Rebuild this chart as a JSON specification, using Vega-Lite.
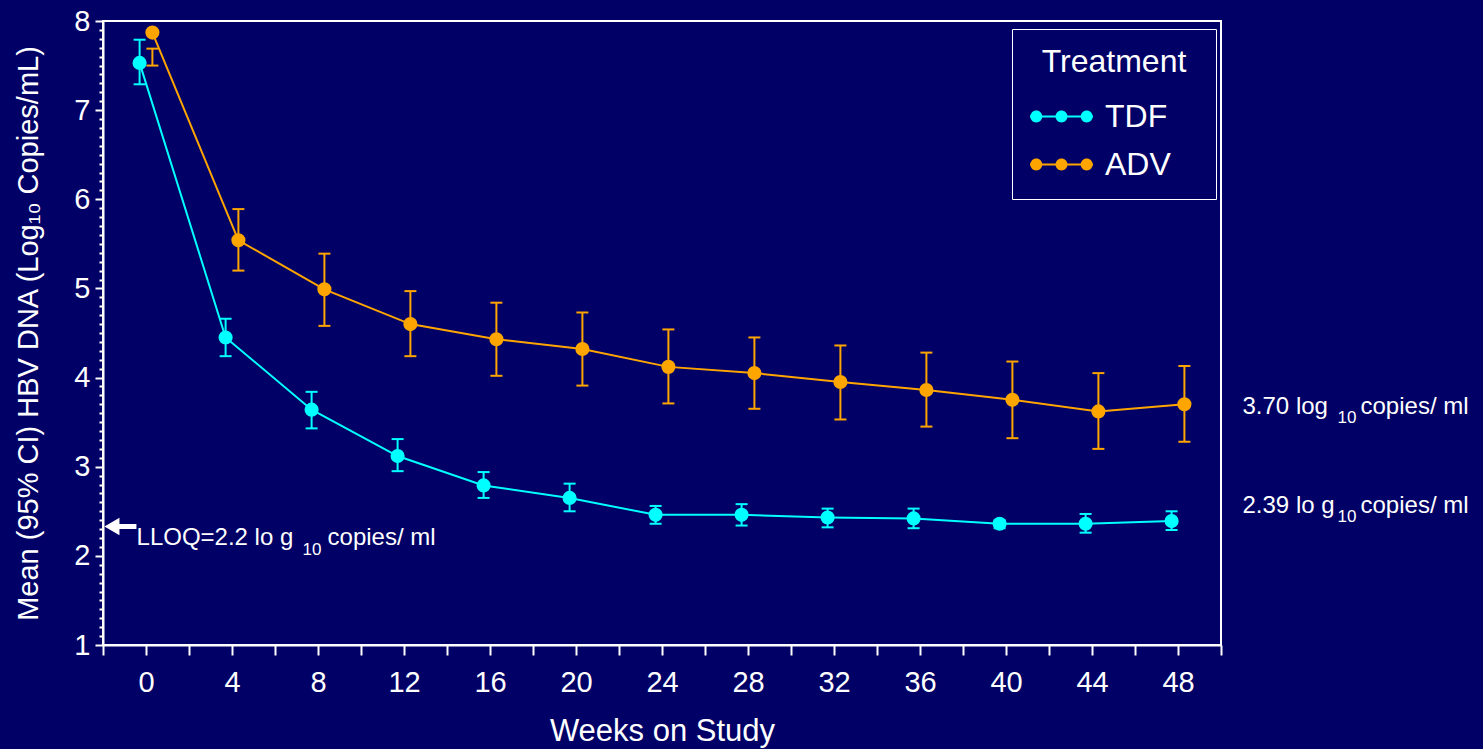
{
  "$schema": "https://vega.github.io/schema/vega-lite/v6.json",
  "width": 1118,
  "height": 624,
  "autosize": {"type": "none"},
  "padding": {"left": 103, "top": 21, "right": 262, "bottom": 104},
  "background": "#000066",
  "config": {
    "font": "Liberation Sans",
    "view": {"stroke": "#FFFFFF", "strokeWidth": 2},
    "axis": {
      "domainColor": "#FFFFFF", "domainWidth": 2,
      "tickColor": "#FFFFFF", "tickWidth": 2,
      "labelColor": "#FFFFFF", "titleColor": "#FFFFFF",
      "grid": false,
      "labelFont": "Liberation Sans", "titleFont": "Liberation Sans",
      "titleFontWeight": "normal"
    },
    "text": {"font": "Liberation Sans", "color": "#FFFFFF"}
  },
  "datasets": {
    "hbv": [
      {"week": 0, "treatment": "TDF", "mean": 7.53, "lower": 7.29, "upper": 7.79},
      {"week": 4, "treatment": "TDF", "mean": 4.45, "lower": 4.24, "upper": 4.66},
      {"week": 8, "treatment": "TDF", "mean": 3.64, "lower": 3.43, "upper": 3.84},
      {"week": 12, "treatment": "TDF", "mean": 3.12, "lower": 2.95, "upper": 3.31},
      {"week": 16, "treatment": "TDF", "mean": 2.79, "lower": 2.65, "upper": 2.94},
      {"week": 20, "treatment": "TDF", "mean": 2.65, "lower": 2.50, "upper": 2.81},
      {"week": 24, "treatment": "TDF", "mean": 2.46, "lower": 2.36, "upper": 2.56},
      {"week": 28, "treatment": "TDF", "mean": 2.46, "lower": 2.34, "upper": 2.58},
      {"week": 32, "treatment": "TDF", "mean": 2.43, "lower": 2.32, "upper": 2.53},
      {"week": 36, "treatment": "TDF", "mean": 2.42, "lower": 2.31, "upper": 2.53},
      {"week": 40, "treatment": "TDF", "mean": 2.36, "lower": 2.31, "upper": 2.40},
      {"week": 44, "treatment": "TDF", "mean": 2.36, "lower": 2.26, "upper": 2.47},
      {"week": 48, "treatment": "TDF", "mean": 2.39, "lower": 2.29, "upper": 2.50},
      {"week": 0, "treatment": "ADV", "mean": 7.87, "lower": 7.50, "upper": 7.69},
      {"week": 4, "treatment": "ADV", "mean": 5.54, "lower": 5.20, "upper": 5.89},
      {"week": 8, "treatment": "ADV", "mean": 4.99, "lower": 4.58, "upper": 5.39},
      {"week": 12, "treatment": "ADV", "mean": 4.60, "lower": 4.24, "upper": 4.97},
      {"week": 16, "treatment": "ADV", "mean": 4.43, "lower": 4.02, "upper": 4.84},
      {"week": 20, "treatment": "ADV", "mean": 4.32, "lower": 3.91, "upper": 4.73},
      {"week": 24, "treatment": "ADV", "mean": 4.12, "lower": 3.71, "upper": 4.54},
      {"week": 28, "treatment": "ADV", "mean": 4.05, "lower": 3.65, "upper": 4.45},
      {"week": 32, "treatment": "ADV", "mean": 3.95, "lower": 3.53, "upper": 4.36},
      {"week": 36, "treatment": "ADV", "mean": 3.86, "lower": 3.45, "upper": 4.28},
      {"week": 40, "treatment": "ADV", "mean": 3.75, "lower": 3.32, "upper": 4.18},
      {"week": 44, "treatment": "ADV", "mean": 3.62, "lower": 3.20, "upper": 4.05},
      {"week": 48, "treatment": "ADV", "mean": 3.70, "lower": 3.28, "upper": 4.13}
    ],
    "lloq": [
      {"arrowWeek": -1.19, "arrowLevel": 2.33, "week": -0.44, "level": 2.2, "main": "LLOQ=2.2 lo g", "sub": "10", "post": "copies/ ml"}
    ],
    "final": [
      {"week": 51, "level": 3.67, "main": "3.70 log", "sub": "10", "post": "copies/ ml"},
      {"week": 51, "level": 2.56, "main": "2.39 lo g", "sub": "10", "post": "copies/ ml"}
    ]
  },
  "layer": [
    {
      "data": {"name": "hbv"},
      "transform": [{"filter": "datum.treatment === 'TDF'"}],
      "mark": {"type": "rule", "strokeWidth": 2, "xOffset": -6.4},
      "encoding": {
        "x": {"field": "week", "type": "quantitative", "scale": {"domain": [-2, 50], "nice": false, "zero": false}},
        "y": {"field": "lower", "type": "quantitative", "scale": {"domain": [1, 8], "nice": false, "zero": false},
          "axis": {"orient": "left", "values": [1.1,1.2,1.3,1.4,1.5,1.6,1.7,1.8,1.9,2.1,2.2,2.3,2.4,2.5,2.6,2.7,2.8,2.9,3.1,3.2,3.3,3.4,3.5,3.6,3.7,3.8,3.9,4.1,4.2,4.3,4.4,4.5,4.6,4.7,4.8,4.9,5.1,5.2,5.3,5.4,5.5,5.6,5.7,5.8,5.9,6.1,6.2,6.3,6.4,6.5,6.6,6.7,6.8,6.9,7.1,7.2,7.3,7.4,7.5,7.6,7.7,7.8,7.9],
            "labels": false, "domain": false, "tickSize": 4, "title": null}},
        "y2": {"field": "upper"},
        "stroke": {"field": "treatment", "type": "nominal", "scale": {"domain": ["TDF", "ADV"], "range": ["#00FFFF", "#FFA500"]}, "legend": null}
      }
    },
    {
      "data": {"name": "hbv"},
      "transform": [{"filter": "datum.treatment === 'ADV'"}],
      "mark": {"type": "rule", "strokeWidth": 2, "xOffset": 6.4},
      "encoding": {
        "x": {"field": "week", "type": "quantitative"},
        "y": {"field": "lower", "type": "quantitative", "axis": null},
        "y2": {"field": "upper"},
        "stroke": {"field": "treatment", "type": "nominal", "legend": null}
      }
    },
    {
      "data": {"name": "hbv"},
      "transform": [{"filter": "datum.treatment === 'TDF'"}],
      "mark": {"type": "tick", "orient": "horizontal", "size": 12, "thickness": 2, "opacity": 1, "xOffset": -6.4},
      "encoding": {
        "x": {"field": "week", "type": "quantitative"},
        "y": {"field": "lower", "type": "quantitative", "axis": null},
        "color": {"field": "treatment", "type": "nominal", "scale": {"domain": ["TDF", "ADV"], "range": ["#00FFFF", "#FFA500"]}, "legend": null}
      }
    },
    {
      "data": {"name": "hbv"},
      "transform": [{"filter": "datum.treatment === 'TDF'"}],
      "mark": {"type": "tick", "orient": "horizontal", "size": 12, "thickness": 2, "opacity": 1, "xOffset": -6.4},
      "encoding": {
        "x": {"field": "week", "type": "quantitative"},
        "y": {"field": "upper", "type": "quantitative", "axis": null},
        "color": {"field": "treatment", "type": "nominal", "legend": null}
      }
    },
    {
      "data": {"name": "hbv"},
      "transform": [{"filter": "datum.treatment === 'ADV'"}],
      "mark": {"type": "tick", "orient": "horizontal", "size": 12, "thickness": 2, "opacity": 1, "xOffset": 6.4},
      "encoding": {
        "x": {"field": "week", "type": "quantitative"},
        "y": {"field": "lower", "type": "quantitative", "axis": null},
        "color": {"field": "treatment", "type": "nominal", "legend": null}
      }
    },
    {
      "data": {"name": "hbv"},
      "transform": [{"filter": "datum.treatment === 'ADV'"}],
      "mark": {"type": "tick", "orient": "horizontal", "size": 12, "thickness": 2, "opacity": 1, "xOffset": 6.4},
      "encoding": {
        "x": {"field": "week", "type": "quantitative"},
        "y": {"field": "upper", "type": "quantitative", "axis": null},
        "color": {"field": "treatment", "type": "nominal", "legend": null}
      }
    },
    {
      "data": {"name": "hbv"},
      "transform": [{"filter": "datum.treatment === 'TDF'"}],
      "mark": {"type": "line", "strokeWidth": 2, "xOffset": -6.4},
      "encoding": {
        "x": {"field": "week", "type": "quantitative"},
        "y": {"field": "mean", "type": "quantitative", "axis": null},
        "stroke": {"field": "treatment", "type": "nominal", "legend": null}
      }
    },
    {
      "data": {"name": "hbv"},
      "transform": [{"filter": "datum.treatment === 'ADV'"}],
      "mark": {"type": "line", "strokeWidth": 2, "xOffset": 6.4},
      "encoding": {
        "x": {"field": "week", "type": "quantitative"},
        "y": {"field": "mean", "type": "quantitative", "axis": null},
        "stroke": {"field": "treatment", "type": "nominal", "legend": null}
      }
    },
    {
      "data": {"name": "hbv"},
      "transform": [{"filter": "datum.treatment === 'TDF'"}],
      "mark": {"type": "point", "shape": "circle", "filled": true, "opacity": 1, "size": 200, "xOffset": -6.4},
      "encoding": {
        "x": {"field": "week", "type": "quantitative",
          "axis": {"values": [-2,0,2,4,6,8,10,12,14,16,18,20,22,24,26,28,30,32,34,36,38,40,42,44,46,48,50],
            "labelExpr": "datum.value >= 0 && datum.value % 4 == 0 ? datum.label : ''",
            "labelOverlap": false, "labelFlush": false,
            "tickSize": 10, "labelFontSize": 29, "labelPadding": 13,
            "title": "Weeks on Study", "titleFontSize": 31, "titlePadding": 19}},
        "y": {"field": "mean", "type": "quantitative",
          "axis": {"orient": "left", "values": [1,2,3,4,5,6,7,8], "tickSize": 8, "labelFontSize": 29, "labelPadding": 5,
            "title": "Mean (95% CI) HBV DNA (Log₁₀ Copies/mL)", "titleFontSize": 29, "titlePadding": 30}},
        "fill": {"field": "treatment", "type": "nominal", "sort": ["TDF", "ADV"], "scale": {"range": ["#00FFFF", "#FFA500"]},
          "legend": {"title": "Treatment", "orient": "none", "legendX": 909, "legendY": 8,
            "symbolType": "M-1,-0.035L1,-0.035L1,0.035L-1,0.035Z M-0.99,0A0.19,0.19 0 1,1 -0.61,0A0.19,0.19 0 1,1 -0.99,0Z M-0.19,0A0.19,0.19 0 1,1 0.19,0A0.19,0.19 0 1,1 -0.19,0Z M0.61,0A0.19,0.19 0 1,1 0.99,0A0.19,0.19 0 1,1 0.61,0Z",
            "symbolSize": 3969, "symbolStrokeWidth": 0, "symbolOpacity": 1,
            "labelFontSize": 32, "labelColor": "#FFFFFF", "labelFont": "Liberation Sans", "labelOffset": 12,
            "labelExpr": "datum.label + '\u00a0\u00a0\u00a0\u200b'",
            "titleFontSize": 32, "titleColor": "#FFFFFF", "titleFont": "Liberation Sans", "titleFontWeight": "normal",
            "titleAnchor": "middle", "titlePadding": 6, "rowPadding": -7,
            "strokeColor": "#FFFFFF", "padding": 18}}
      }
    },
    {
      "data": {"name": "hbv"},
      "transform": [{"filter": "datum.treatment === 'ADV'"}],
      "mark": {"type": "point", "shape": "circle", "filled": true, "opacity": 1, "size": 200, "xOffset": 6.4},
      "encoding": {
        "x": {"field": "week", "type": "quantitative",
          "axis": {"values": [-2,0,2,4,6,8,10,12,14,16,18,20,22,24,26,28,30,32,34,36,38,40,42,44,46,48,50],
            "labelExpr": "datum.value >= 0 && datum.value % 4 == 0 ? datum.label : ''",
            "labelOverlap": false, "labelFlush": false,
            "tickSize": 10, "labelFontSize": 29, "labelPadding": 13,
            "title": "Weeks on Study", "titleFontSize": 31, "titlePadding": 19}},
        "y": {"field": "mean", "type": "quantitative", "axis": null},
        "fill": {"field": "treatment", "type": "nominal", "sort": ["TDF", "ADV"],
          "legend": {"title": "Treatment", "orient": "none", "legendX": 909, "legendY": 8,
            "symbolType": "M-1,-0.035L1,-0.035L1,0.035L-1,0.035Z M-0.99,0A0.19,0.19 0 1,1 -0.61,0A0.19,0.19 0 1,1 -0.99,0Z M-0.19,0A0.19,0.19 0 1,1 0.19,0A0.19,0.19 0 1,1 -0.19,0Z M0.61,0A0.19,0.19 0 1,1 0.99,0A0.19,0.19 0 1,1 0.61,0Z",
            "symbolSize": 3969, "symbolStrokeWidth": 0, "symbolOpacity": 1,
            "labelFontSize": 32, "labelColor": "#FFFFFF", "labelFont": "Liberation Sans", "labelOffset": 12,
            "labelExpr": "datum.label + '\u00a0\u00a0\u00a0\u200b'",
            "titleFontSize": 32, "titleColor": "#FFFFFF", "titleFont": "Liberation Sans", "titleFontWeight": "normal",
            "titleAnchor": "middle", "titlePadding": 6, "rowPadding": -7,
            "strokeColor": "#FFFFFF", "padding": 18}}
      }
    },
    {
      "data": {"name": "lloq"},
      "mark": {"type": "point", "shape": "M-1,0L-0.06,-0.55L-0.06,-0.16L1,-0.16L1,0.16L-0.06,0.16L-0.06,0.55Z", "filled": true, "size": 1024, "color": "#FFFFFF", "opacity": 1},
      "encoding": {
        "x": {"field": "arrowWeek", "type": "quantitative"},
        "y": {"field": "arrowLevel", "type": "quantitative", "axis": null}
      }
    },
    {
      "data": {"name": "lloq"},
      "mark": {"type": "text", "align": "left", "baseline": "middle", "fontSize": 24},
      "encoding": {
        "x": {"field": "week", "type": "quantitative"},
        "y": {"field": "level", "type": "quantitative", "axis": null},
        "text": {"field": "main"}
      }
    },
    {
      "data": {"name": "lloq"},
      "mark": {"type": "text", "align": "left", "baseline": "middle", "fontSize": 17, "dx": 166, "dy": 12},
      "encoding": {
        "x": {"field": "week", "type": "quantitative"},
        "y": {"field": "level", "type": "quantitative", "axis": null},
        "text": {"field": "sub"}
      }
    },
    {
      "data": {"name": "lloq"},
      "mark": {"type": "text", "align": "left", "baseline": "middle", "fontSize": 24, "dx": 191},
      "encoding": {
        "x": {"field": "week", "type": "quantitative"},
        "y": {"field": "level", "type": "quantitative", "axis": null},
        "text": {"field": "post"}
      }
    },
    {
      "data": {"name": "final"},
      "mark": {"type": "text", "align": "left", "baseline": "middle", "fontSize": 24},
      "encoding": {
        "x": {"field": "week", "type": "quantitative"},
        "y": {"field": "level", "type": "quantitative", "axis": null},
        "text": {"field": "main"}
      }
    },
    {
      "data": {"name": "final"},
      "mark": {"type": "text", "align": "left", "baseline": "middle", "fontSize": 17, "dx": 95, "dy": 11},
      "encoding": {
        "x": {"field": "week", "type": "quantitative"},
        "y": {"field": "level", "type": "quantitative", "axis": null},
        "text": {"field": "sub"}
      }
    },
    {
      "data": {"name": "final"},
      "mark": {"type": "text", "align": "left", "baseline": "middle", "fontSize": 24, "dx": 118},
      "encoding": {
        "x": {"field": "week", "type": "quantitative"},
        "y": {"field": "level", "type": "quantitative", "axis": null},
        "text": {"field": "post"}
      }
    }
  ],
  "resolve": {"axis": {"y": "independent"}}
}
